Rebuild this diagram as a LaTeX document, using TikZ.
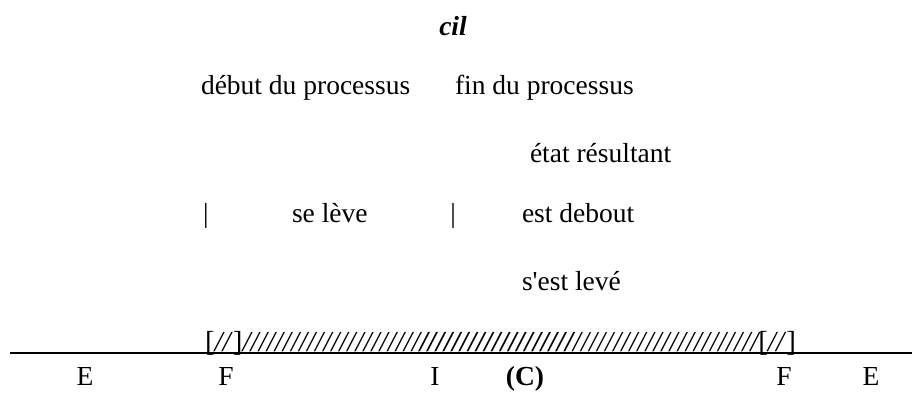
\documentclass[tikz,border=0pt]{standalone}
\usepackage{fontspec}
\setmainfont{Liberation Serif}
\newcommand\refsz{\fontsize{27.5}{33}\selectfont}
\newcommand\slsz{\fontsize{29}{34}\selectfont}
\newcommand\slashrun[1]{\foreach \k in {1,...,#1}{/}}
\begin{document}
\begin{tikzpicture}[x=1pt,y=-1pt,
  lbl/.style={inner sep=0pt,outer sep=0pt,font=\refsz},
  lblbi/.style={inner sep=0pt,outer sep=0pt,font=\refsz\bfseries\itshape},
  lblb/.style={inner sep=0pt,outer sep=0pt,font=\refsz\bfseries},
  sl/.style={inner sep=0pt,outer sep=0pt,font=\slsz},
  sli/.style={inner sep=0pt,outer sep=0pt,font=\slsz\itshape},
  slbi/.style={inner sep=0pt,outer sep=0pt,font=\slsz\bfseries\itshape},
  rule/.style={line width=1.2pt}]
\useasboundingbox (0,0) rectangle (914,392);
% title
\node[lblbi,anchor=base] (cil) at (453,35) {cil};
% headers
\node[lbl,anchor=base west] (debut) at (201,94) {début du processus};
\node[lbl,anchor=base west] (fin) at (455,94) {fin du processus};
\node[lbl,anchor=base west] (etat) at (530,162) {état résultant};
% middle row
\node[lbl,anchor=base] (bar1) at (206,222) {|};
\node[lbl,anchor=base west] (leve) at (292,222) {se lève};
\node[lbl,anchor=base] (bar2) at (453,222) {|};
\node[lbl,anchor=base west] (debout) at (522,222) {est debout};
\node[lbl,anchor=base west] (estleve) at (522,290) {s\textquotesingle est levé};
% time line
\coordinate (L) at (10,353);
\coordinate (R) at (912,353);
\draw[rule] (L) -- (R);
\node[sl,anchor=base west] (bl) at (205,351) {[\textit{//}]};
\node[sli,anchor=base west] (t1) at (bl.base east) {\slashrun{22}};
\node[slbi,anchor=base west] (bd) at (t1.base east) {\slashrun{19}};
\node[sli,anchor=base west] (t2) at (bd.base east) {\slashrun{23}};
\node[sl,anchor=base west] (br) at (t2.base east) {[\textit{//}]};
% bottom labels
\node[lbl,anchor=base] (e1) at (85,385) {E};
\node[lbl,anchor=base] (f1) at (226,385) {F};
\node[lbl,anchor=base] (i1) at (435,385) {I};
\node[lblb,anchor=base] (c1) at (525,385) {(C)};
\node[lbl,anchor=base] (f2) at (784,385) {F};
\node[lbl,anchor=base] (e2) at (871,385) {E};
\end{tikzpicture}
\end{document}
